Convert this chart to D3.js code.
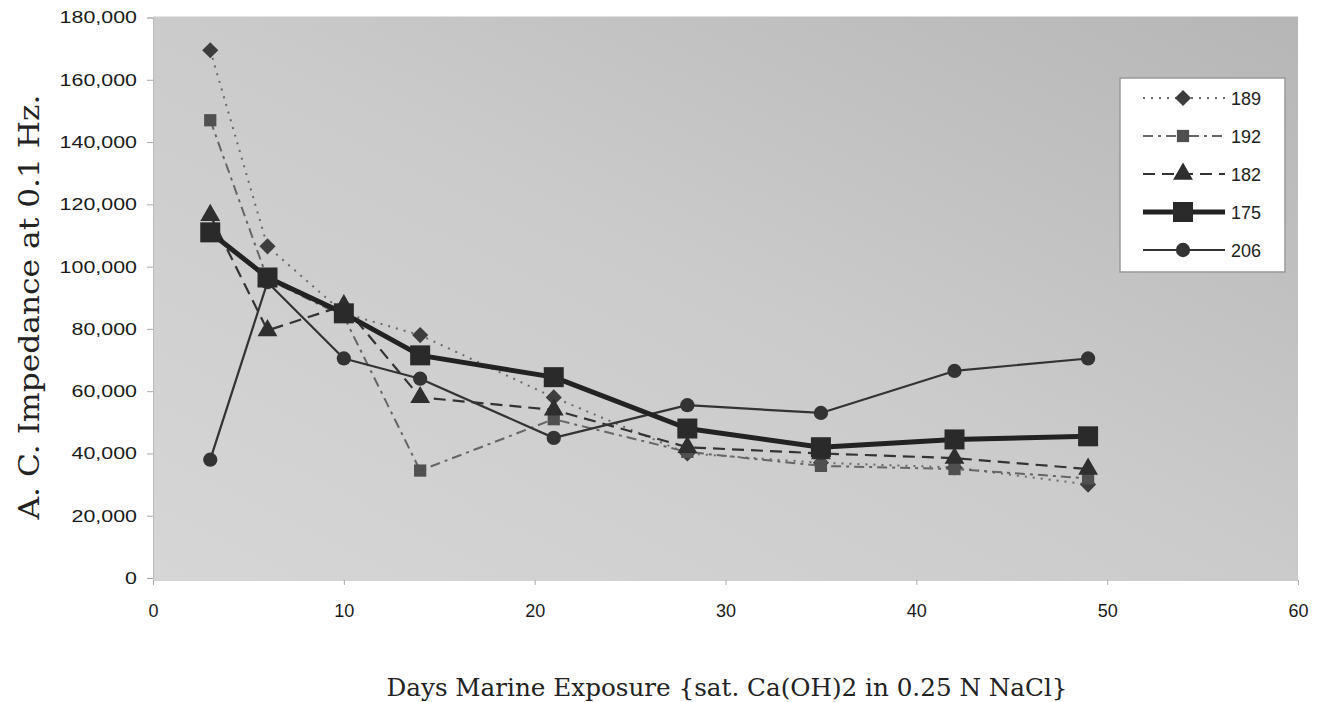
<!DOCTYPE html>
<html>
<head>
<meta charset="utf-8">
<script src="https://cdn.jsdelivr.net/npm/d3@7"></script>
<style>
  html, body { margin: 0; padding: 0; background: #ffffff; }
  svg { display: block; }
</style>
</head>
<body>
<svg id="chart" width="1324" height="702"></svg>
<script>
// ---- data ----
const days = [3, 6, 10, 14, 21, 28, 35, 42, 49];
const seriesNames = ["189", "192", "182", "175", "206"];
const s189 = [169500, 106500, 85000, 78000, 58000, 40000, 37000, 35500, 30000];
const s192 = [147000, 96000, 84000, 34500, 51000, 40500, 36000, 35000, 32000];
const s182 = [116500, 79500, 87500, 58000, 54000, 42000, 40000, 38500, 35000];
const s175 = [111000, 96500, 85000, 71500, 64500, 48000, 42000, 44500, 45500];
const s206 = [38000, 95000, 70500, 64000, 45000, 55500, 53000, 66500, 70500];
const xTicks = [0, 10, 20, 30, 40, 50, 60];
const yTicks = [0, 20000, 40000, 60000, 80000, 100000, 120000, 140000, 160000, 180000];
const xTitle = "Days Marine Exposure {sat. Ca(OH)2 in 0.25 N NaCl}";
const yTitle = "A. C. Impedance at 0.1 Hz.";

const seriesValues = [s189, s192, s182, s175, s206];
const styles = {
  "189": { dash: "2,6", width: 2, color: "#6a6a6a", marker: "diamond", size: 130, mcolor: "#3d3d3d" },
  "192": { dash: "10,5,3,5", width: 2, color: "#666", marker: "square", size: 150, mcolor: "#505050" },
  "182": { dash: "12,7", width: 2.2, color: "#333", marker: "triangle", size: 170, mcolor: "#2e2e2e" },
  "175": { dash: null, width: 5, color: "#222", marker: "square", size: 400, mcolor: "#2a2a2a" },
  "206": { dash: null, width: 2.2, color: "#333", marker: "circle", size: 160, mcolor: "#333" }
};
const symMap = { diamond: d3.symbolSquare, square: d3.symbolSquare, triangle: d3.symbolTriangle, circle: d3.symbolCircle };
const rotMap = { diamond: 45, square: 0, triangle: 0, circle: 0 };

const svg = d3.select("#chart");
const pLeft = 153, pRight = 1298, pTop = 17.5, pBottom = 578;

const x = d3.scaleLinear().domain([0, 60]).range([pLeft, pRight]);
const y = d3.scaleLinear().domain([0, 180000]).range([pBottom, pTop]);

// background gradient
const defs = svg.append("defs");
const grad = defs.append("linearGradient").attr("id", "bg")
  .attr("x1", "0%").attr("y1", "100%").attr("x2", "100%").attr("y2", "0%");
grad.append("stop").attr("offset", "0%").attr("stop-color", "#d6d6d6");
grad.append("stop").attr("offset", "50%").attr("stop-color", "#cbcbcb");
grad.append("stop").attr("offset", "100%").attr("stop-color", "#b6b6b6");

svg.append("rect")
  .attr("x", pLeft).attr("y", pTop - 1)
  .attr("width", pRight - pLeft).attr("height", pBottom - pTop + 4)
  .attr("fill", "url(#bg)");

// axes
const yAxis = svg.append("g")
  .attr("transform", `translate(${pLeft},0)`)
  .call(d3.axisLeft(y).tickValues(yTicks).tickSize(6).tickFormat(d3.format(",")));
yAxis.select(".domain").attr("stroke", "#bbb");
yAxis.selectAll(".tick line").attr("stroke", "#aaa");
yAxis.selectAll(".tick text")
  .attr("font-family", "Liberation Sans, Arial, sans-serif")
  .attr("font-size", 17)
  .attr("fill", "#1a1a1a")
  .attr("x", -16 / 1.26)
  .attr("transform", "scale(1.26,1)");

const xAxis = svg.append("g")
  .attr("transform", `translate(0,${pBottom + 2})`)
  .call(d3.axisBottom(x).tickValues(xTicks).tickSize(5).tickFormat(d3.format("d")));
xAxis.select(".domain").attr("stroke", "none");
xAxis.selectAll(".tick line").attr("stroke", "#aaa");
xAxis.selectAll(".tick text")
  .attr("font-family", "Liberation Sans, Arial, sans-serif")
  .attr("font-size", 18)
  .attr("fill", "#1a1a1a")
  .attr("y", 24);

// titles
svg.append("text")
  .attr("x", 727).attr("y", 696)
  .attr("text-anchor", "middle")
  .attr("font-family", "DejaVu Serif, Liberation Serif, serif")
  .attr("font-size", 25)
  .attr("fill", "#222")
  .attr("textLength", 681).attr("lengthAdjust", "spacingAndGlyphs")
  .text(xTitle);

svg.append("text")
  .attr("transform", "translate(39,307) rotate(-90)")
  .attr("text-anchor", "middle")
  .attr("font-family", "DejaVu Serif, Liberation Serif, serif")
  .attr("font-size", 27)
  .attr("fill", "#222")
  .attr("textLength", 425).attr("lengthAdjust", "spacingAndGlyphs")
  .text(yTitle);

// lines
const line = d3.line().x(d => x(d[0])).y(d => y(d[1]));
const drawOrder = [0, 1, 2, 4, 3];
drawOrder.forEach(i => {
  const name = seriesNames[i];
  const st = styles[name];
  const pts = days.map((d, j) => [d, seriesValues[i][j]]);
  svg.append("path")
    .datum(pts)
    .attr("d", line)
    .attr("fill", "none")
    .attr("stroke", st.color)
    .attr("stroke-width", st.width)
    .attr("stroke-dasharray", st.dash)
    .attr("stroke-linejoin", "round");
});
drawOrder.forEach(i => {
  const name = seriesNames[i];
  const st = styles[name];
  const pts = days.map((d, j) => [d, seriesValues[i][j]]);
  svg.append("g").selectAll("path")
    .data(pts).join("path")
    .attr("transform", d => `translate(${x(d[0])},${y(d[1])}) rotate(${rotMap[st.marker]})`)
    .attr("d", d3.symbol().type(symMap[st.marker]).size(st.size))
    .attr("fill", st.mcolor);
});

// legend
const lg = svg.append("g");
lg.append("rect")
  .attr("x", 1120).attr("y", 78).attr("width", 165).attr("height", 194)
  .attr("fill", "#fff").attr("stroke", "#999").attr("stroke-width", 1.5);
const legendY = d3.scalePoint().domain(seriesNames).range([98, 250]);
seriesNames.forEach(name => {
  const st = styles[name];
  const yy = legendY(name);
  lg.append("line")
    .attr("x1", 1143).attr("x2", 1225).attr("y1", yy).attr("y2", yy)
    .attr("stroke", st.color).attr("stroke-width", st.width)
    .attr("stroke-dasharray", st.dash);
  lg.append("path")
    .attr("transform", `translate(1183,${yy}) rotate(${rotMap[st.marker]})`)
    .attr("d", d3.symbol().type(symMap[st.marker]).size(st.size))
    .attr("fill", st.mcolor);
  lg.append("text")
    .attr("x", 1231).attr("y", yy + 6.5)
    .attr("font-family", "Liberation Sans, Arial, sans-serif")
    .attr("font-size", 18)
    .attr("fill", "#222")
    .text(name);
});
</script>
</body>
</html>
